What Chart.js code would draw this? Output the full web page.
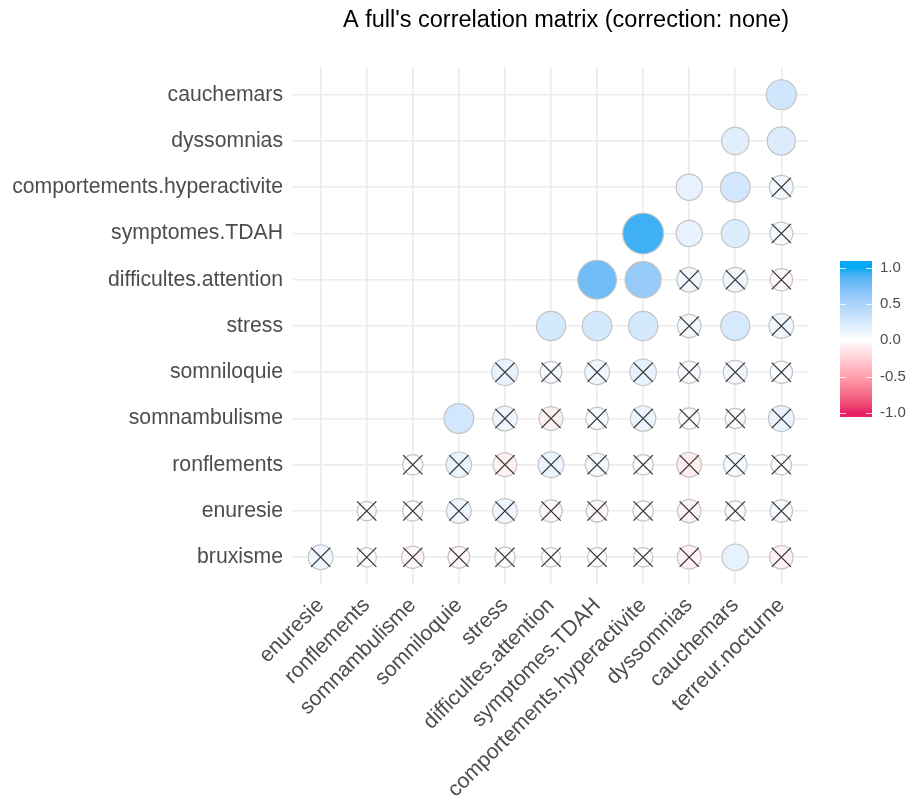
<!DOCTYPE html>
<html>
<head>
<meta charset="utf-8">
<script src="https://cdn.jsdelivr.net/npm/chart.js@4.4.1/dist/chart.umd.min.js"></script>
<style>
  html, body { margin:0; padding:0; background:#fff; }
  #wrap { width:912px; height:801px; position:relative; }
</style>
</head>
<body>
<div id="wrap"><canvas id="corrChart"></canvas></div>
<script>
const titleText = "A full's correlation matrix (correction: none)";

const xLabels = ['enuresie','ronflements','somnambulisme','somniloquie','stress','difficultes.attention',
  'symptomes.TDAH','comportements.hyperactivite','dyssomnias','cauchemars','terreur.nocturne'];
const yLabels = ['bruxisme','enuresie','ronflements','somnambulisme','somniloquie','stress',
  'difficultes.attention','symptomes.TDAH','comportements.hyperactivite','dyssomnias','cauchemars'];

// r of each row variable with the columns to its right (starting at its first shown column)
const bruxisme      = [0.10, 0.01, -0.05, -0.04, 0.02, 0.01, 0.01, 0.01, -0.08, 0.15, -0.07];
const enuresie      = [0.01, 0.02, 0.10, 0.10, -0.05, -0.04, 0.02, -0.07, 0.02, 0.05];
const ronflements   = [0.02, 0.12, -0.08, 0.13, 0.07, 0.02, -0.10, 0.07, 0.02];
const somnambulisme = [0.27, 0.10, -0.08, 0.05, 0.12, 0.03, 0.02, 0.13];
const somniloquie   = [0.15, 0.04, 0.10, 0.15, 0.05, 0.08, 0.05];
const stress        = [0.25, 0.26, 0.25, 0.07, 0.24, 0.10];
const difficultes   = [0.77, 0.60, 0.10, 0.10, -0.05];
const symptomes     = [0.92, 0.14, 0.20, 0.06];
const comportements = [0.14, 0.27, 0.08];
const dyssomnias    = [0.18, 0.21];
const cauchemars    = [0.28];
const rows = [bruxisme, enuresie, ronflements, somnambulisme, somniloquie, stress,
  difficultes, symptomes, comportements, dyssomnias, cauchemars];

// pairs with p < 0.05 (everything else gets a cross)
const significant = [
  ['bruxisme','cauchemars'], ['somnambulisme','somniloquie'],
  ['stress','difficultes.attention'], ['stress','symptomes.TDAH'], ['stress','comportements.hyperactivite'], ['stress','cauchemars'],
  ['difficultes.attention','symptomes.TDAH'], ['difficultes.attention','comportements.hyperactivite'],
  ['symptomes.TDAH','comportements.hyperactivite'], ['symptomes.TDAH','dyssomnias'], ['symptomes.TDAH','cauchemars'],
  ['comportements.hyperactivite','dyssomnias'], ['comportements.hyperactivite','cauchemars'],
  ['dyssomnias','cauchemars'], ['dyssomnias','terreur.nocturne'], ['cauchemars','terreur.nocturne']
];

const legendTicks = [1.0, 0.5, 0.0, -0.5, -1.0];

// colours: gradient low - white - high, mixed in Lab like ggplot
const LOW = '#E91E63', MID = '#FFFFFF', HIGH = '#03A9F4';
const FONT = "'Liberation Sans', Arial, sans-serif";

function hexToRgb(h){ return [1,3,5].map(i => parseInt(h.slice(i,i+2),16)); }
function rgbToLab(c){
  const lin = c.map(v => { v/=255; return v <= 0.04045 ? v/12.92 : Math.pow((v+0.055)/1.055, 2.4); });
  const X = (0.4124*lin[0] + 0.3576*lin[1] + 0.1805*lin[2]) / 0.95047;
  const Y = (0.2126*lin[0] + 0.7152*lin[1] + 0.0722*lin[2]);
  const Z = (0.0193*lin[0] + 0.1192*lin[1] + 0.9505*lin[2]) / 1.08883;
  const f = t => t > 0.008856 ? Math.cbrt(t) : 7.787*t + 16/116;
  return [116*f(Y) - 16, 500*(f(X) - f(Y)), 200*(f(Y) - f(Z))];
}
function labToRgb(l){
  const fy = (l[0]+16)/116, fx = fy + l[1]/500, fz = fy - l[2]/200;
  const inv = f => { const f3 = f*f*f; return f3 > 0.008856 ? f3 : (f - 16/116)/7.787; };
  const X = inv(fx)*0.95047, Y = inv(fy), Z = inv(fz)*1.08883;
  const lin = [ 3.2406*X - 1.5372*Y - 0.4986*Z,
               -0.9689*X + 1.8758*Y + 0.0415*Z,
                0.0557*X - 0.2040*Y + 1.0570*Z];
  return lin.map(v => {
    v = v <= 0.0031308 ? 12.92*v : 1.055*Math.pow(v, 1/2.4) - 0.055;
    return Math.round(Math.max(0, Math.min(1, v))*255);
  });
}
const labLow = rgbToLab(hexToRgb(LOW)), labMid = rgbToLab(hexToRgb(MID)), labHigh = rgbToLab(hexToRgb(HIGH));
function corrColor(v){
  const t = Math.min(1, Math.abs(v));
  const end = v < 0 ? labLow : labHigh;
  const c = labToRgb(labMid.map((m,i) => m + (end[i]-m)*t));
  return `rgb(${c[0]},${c[1]},${c[2]})`;
}
function circleRadius(v){ return 8.4 + 12.5*Math.sqrt(Math.abs(v)); }

// build points
const circlePts = [], crossPts = [];
rows.forEach((vals, i) => {
  vals.forEach((v, k) => {
    const p = {x: i + k, y: i, r: v};
    circlePts.push(p);
    const sig = significant.some(s => s[0] === yLabels[i] && s[1] === xLabels[i + k]);
    if(!sig) crossPts.push(p);
  });
});

const decor = {
  id: 'decor',
  afterDraw(chart){
    const ctx = chart.ctx;
    ctx.save();
    // title
    ctx.fillStyle = '#000';
    ctx.font = `23.5px ${FONT}`;
    ctx.textAlign = 'center';
    ctx.textBaseline = 'alphabetic';
    ctx.fillText(titleText, 566, 26.5);

    // colour bar
    const bx = 840, bw = 32, yTop = 261, yBot = 417;
    const yOf = v => 340.3 - 72.6*v;
    const grad = ctx.createLinearGradient(0, yOf(1), 0, yOf(-1));
    for(let s = 0; s <= 20; s++){
      grad.addColorStop(s/20, corrColor(1 - s/10));
    }
    ctx.fillStyle = grad;
    ctx.fillRect(bx, yTop, bw, yBot - yTop);
    ctx.strokeStyle = 'rgba(255,255,255,0.8)';
    ctx.lineWidth = 1;
    ctx.font = `15px ${FONT}`;
    ctx.textAlign = 'left';
    ctx.textBaseline = 'middle';
    legendTicks.forEach(v => {
      const y = Math.round(yOf(v)) + 0.5;
      ctx.beginPath();
      ctx.moveTo(bx, y); ctx.lineTo(bx + 6, y);
      ctx.moveTo(bx + bw - 6, y); ctx.lineTo(bx + bw, y);
      ctx.stroke();
      ctx.fillStyle = '#4d4d4d';
      ctx.fillText(v.toFixed(1), 880, yOf(v));
    });
    ctx.restore();
  }
};

const ctx = document.getElementById('corrChart').getContext('2d');
new Chart(ctx, {
  type: 'scatter',
  data: {
    datasets: [
      {
        label: 'ns',
        data: crossPts,
        order: 0,
        pointStyle: 'crossRot',
        pointRadius: 13.6,
        pointBorderColor: '#333',
        pointBorderWidth: 1.3,
        pointBackgroundColor: 'rgba(0,0,0,0)'
      },
      {
        label: 'r',
        data: circlePts,
        order: 1,
        pointStyle: 'circle',
        pointRadius: c => circleRadius(c.raw.r),
        pointBackgroundColor: c => corrColor(c.raw.r),
        pointBorderColor: '#c4c4c4',
        pointBorderWidth: 1.2
      }
    ]
  },
  options: {
    responsive: true,
    maintainAspectRatio: false,
    animation: false,
    layout: { padding: { top: 67, right: 103, left: 0, bottom: 0 } },
    plugins: { legend: { display: false }, tooltip: { enabled: false } },
    scales: {
      x: {
        type: 'linear',
        min: -0.6, max: 10.6,
        afterBuildTicks: s => { s.ticks = xLabels.map((_, i) => ({value: i})); },
        afterFit: s => { s.height = 216; },
        border: { display: false },
        grid: { color: '#ebebeb', lineWidth: 1.6, drawTicks: false },
        ticks: {
          autoSkip: false, minRotation: 45, maxRotation: 45, padding: 8,
          color: '#4d4d4d', font: { family: FONT, size: 21.2 },
          callback: v => xLabels[v] || ''
        }
      },
      y: {
        type: 'linear',
        min: -0.6, max: 10.6,
        afterBuildTicks: s => { s.ticks = yLabels.map((_, i) => ({value: i})); },
        afterFit: s => { s.width = 293; },
        border: { display: false },
        grid: { color: '#ebebeb', lineWidth: 1.6, drawTicks: false },
        ticks: {
          autoSkip: false, padding: 10,
          color: '#4d4d4d', font: { family: FONT, size: 21.2 },
          callback: v => yLabels[v] || ''
        }
      }
    }
  },
  plugins: [decor]
});
</script>
</body>
</html>
